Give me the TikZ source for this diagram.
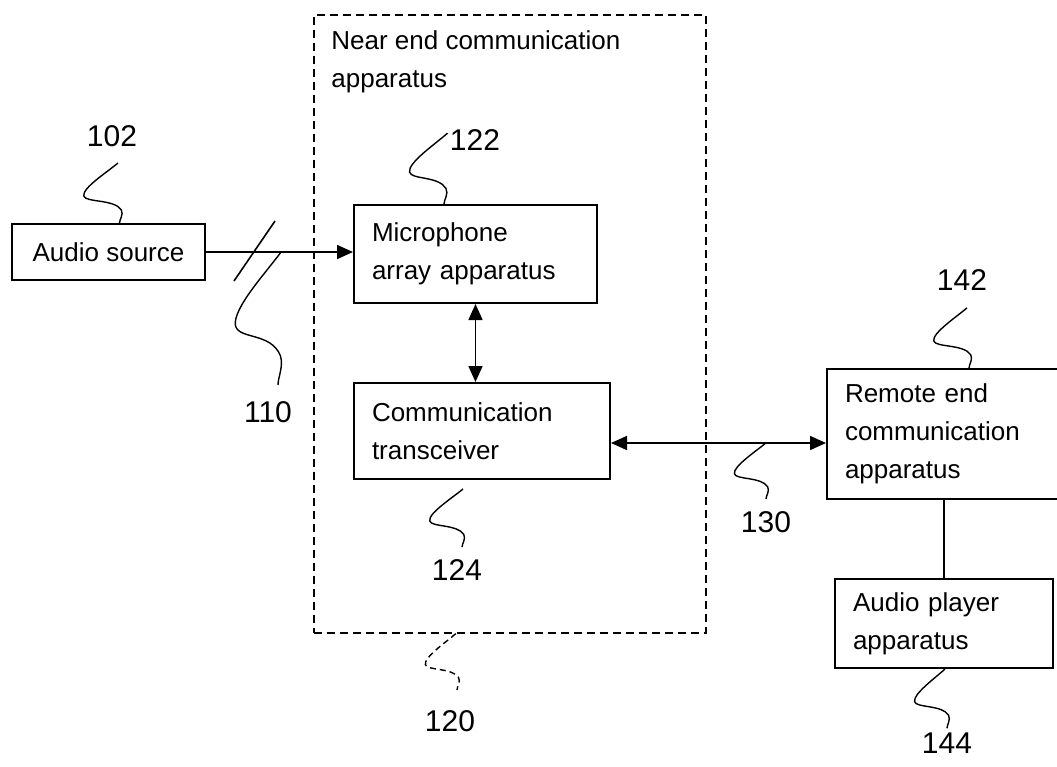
\documentclass[tikz,border=0pt]{standalone}
\usepackage{fontspec}
\setmainfont{Liberation Sans}
\usetikzlibrary{arrows.meta, positioning, calc}

\tikzset{
  squig/.style={to path={
    let \p1=(\tikztostart), \p2=(\tikztotarget), \n1={\y1-\y2} in
    .. controls (\x1-0.3*#1, \y1-0.15*\n1) and (\x1-#1, \y1-0.42*\n1) .. (\x1-0.95*#1, \y1-0.55*\n1)
    .. controls (\x1-0.9*#1, \y1-0.66*\n1) and (\x2-0.15*#1, \y1-0.6*\n1) .. (\x2+0.05*#1, \y1-0.78*\n1)
    .. controls (\x2+0.12*#1, \y1-0.86*\n1) and (\x2, \y2+0.06*\n1) .. (\p2)}},
}

\begin{document}
\begin{tikzpicture}[
    x=0.5pt, y=-0.5pt,
    font=\fontsize{13}{19}\selectfont,
    blk/.style = {
        draw, line width=1pt, anchor=north west,
        align=left, inner xsep=9pt, inner ysep=0pt
    },
    num/.style = {font=\fontsize{15}{18}\selectfont, inner sep=0pt},
    arr/.style = {-{Triangle[length=8pt,width=7pt]}, line width=0.8pt},
    darr/.style = {{Triangle[length=8pt,width=7pt]}-{Triangle[length=8pt,width=7pt]}, line width=0.8pt},
    lead/.style = {line width=0.7pt},
]
\useasboundingbox (0,0) rectangle (1057,767);

% near end apparatus
\node[draw, dash pattern=on 4pt off 2.5pt, line width=0.8pt, anchor=north west,
      minimum width=196pt, minimum height=309pt, inner sep=0pt] (near) at (313,14) {};
\node[anchor=north west, align=left, inner sep=0pt] (title) at (331,30)
    {Near end communication\\apparatus};

\node[blk, minimum width=96.5pt, minimum height=28pt, align=center, inner xsep=0pt] (src) at (11,223) {Audio source};
\node[blk, text width=103.5pt, minimum height=49pt] (mic) at (353,204) {Microphone\\array apparatus};
\node[blk, text width=110pt, minimum height=48pt] (comm) at (353,382) {Communication\\transceiver};
\node[blk, text width=114pt, minimum height=65pt] (remote) at (826,368) {Remote end\\communication\\apparatus};
\node[blk, text width=91pt, minimum height=44.5pt] (player) at (834,578) {Audio player\\apparatus};

% reference numerals
\node[num] (l102) at (112,136) {102};
\node[num] (l122) at (475,140) {122};
\node[num] (l110) at (268,412) {110};
\node[num] (l124) at (457,570) {124};
\node[num] (l120) at (450,721) {120};
\node[num] (l130) at (766,522) {130};
\node[num] (l142) at (962,280) {142};
\node[num] (l144) at (947,743) {144};

% signal lines
\draw[arr] (src.east) -- (src.east -| mic.west);
\draw[line width=0.8pt] ([xshift=24pt]src.east) +(-20,29) -- +(21,-31);
\draw[darr] (mic.south) -- (mic.south |- comm.north);
\coordinate (t1) at ([yshift=-6pt]comm.east);
\draw[darr] (t1) -- (t1 -| remote.west);
\draw[line width=0.8pt] (player.north) -- (player.north |- remote.south);

% leaders
\draw[lead] ([xshift=3pt,yshift=-8pt]l102.south) to[squig=18pt] ([xshift=5.5pt]src.north);
\draw[lead] ([xshift=-1pt,yshift=-2pt]l122.north west) to[squig=20pt] ([xshift=-15.75pt]mic.north);
\draw[lead] ([xshift=37.5pt]src.east) to[squig=24pt] ([xshift=5pt,yshift=8pt]l110.north);
\draw[lead] ([xshift=-9.5pt,yshift=-4.5pt]comm.south) to[squig=17.5pt] ([xshift=2.5pt,yshift=6pt]l124.north);
\draw[lead, dash pattern=on 3pt off 2pt] ([xshift=-27pt]near.south) to[squig=16pt] ([xshift=3.5pt,yshift=10pt]l120.north);
\draw[lead] ($(t1)!0.72!(t1 -| remote.west)$) to[squig=16.5pt] ([yshift=6pt]l130.north);
\draw[lead] ([xshift=2.5pt,yshift=-8.5pt]l142.south) to[squig=17.5pt] ([xshift=5pt]remote.north);
\draw[lead] ([xshift=0.5pt]player.south) to[squig=16pt] ([yshift=2pt]l144.north);

\end{tikzpicture}
\end{document}
